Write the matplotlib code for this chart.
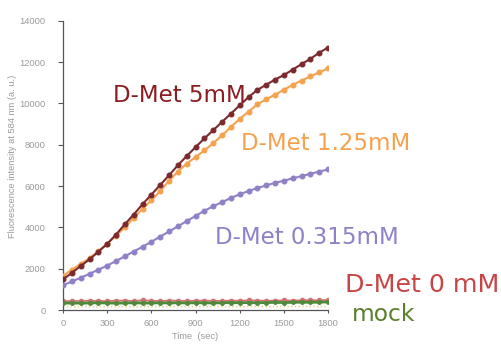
import matplotlib
matplotlib.use("Agg")
import matplotlib.pyplot as plt
from matplotlib import font_manager

plt.rcParams['font.family'] = ['DejaVu Sans']

# Narrow face for the small axis text when available
_names = {f.name for f in font_manager.fontManager.ttflist}
AXIS_FONT = 'Liberation Sans Narrow' if 'Liberation Sans Narrow' in _names else 'Liberation Sans'

# Time points (sec)
time_sec = list(range(0, 1801, 60))

# Fluorescence intensity at 584 nm (a.u.)
dmet_5mM = [1480, 1800, 2130, 2450, 2820, 3200, 3650, 4150, 4620, 5120,
            5580, 6050, 6520, 7000, 7450, 7880, 8300, 8700, 9100, 9500,
            9900, 10300, 10650, 10900, 11150, 11370, 11630, 11900, 12150,
            12450, 12700]
dmet_125mM = [1650, 1950, 2230, 2500, 2850, 3200, 3600, 4000, 4450, 4900,
              5300, 5750, 6250, 6700, 7080, 7400, 7720, 8070, 8450, 8850,
              9250, 9600, 9950, 10200, 10420, 10650, 10900, 11100, 11300,
              11500, 11700]
dmet_0315mM = [1200, 1380, 1560, 1750, 1950, 2150, 2370, 2600, 2830, 3060,
               3300, 3550, 3800, 4050, 4300, 4550, 4800, 5020, 5220, 5420,
               5600, 5760, 5900, 6030, 6150, 6260, 6370, 6480, 6590, 6700,
               6800]
dmet_0mM = [420, 440, 430, 450, 440, 430, 450, 460, 440, 470,
            450, 440, 460, 450, 440, 450, 460, 450, 440, 460,
            450, 470, 460, 450, 460, 470, 460, 470, 480, 470, 490]
mock = [330, 340, 330, 340, 350, 340, 330, 340, 350, 340,
        340, 350, 340, 350, 340, 350, 350, 340, 350, 360,
        350, 360, 350, 360, 370, 360, 370, 380, 370, 380, 390]
blank = [150, 150, 160, 150, 150, 160, 150, 160, 150, 160,
         150, 160, 160, 150, 160, 160, 150, 160, 160, 160,
         160, 160, 170, 160, 170, 160, 170, 170, 170, 170, 170]

fig = plt.figure(figsize=(5.02, 3.49), dpi=100)
ax = fig.add_axes([0.1255, 0.1117, 0.5279, 0.829])

ax.plot(time_sec, blank, color='#d9d27a', lw=1.0, ls=':', zorder=2)
ax.plot(time_sec, dmet_0mM, color='#d07070', lw=1.2, marker='o', ms=3, zorder=2)
ax.plot(time_sec, mock, color='#4f8a3c', lw=2.0, marker='o', ms=2.5, zorder=3)
ax.plot(time_sec, dmet_0315mM, color='#9080c8', lw=1.5, marker='o', ms=3.3, zorder=4)
ax.plot(time_sec, dmet_125mM, color='#f4a24e', lw=1.5, marker='o', ms=3.3, zorder=5)
ax.plot(time_sec, dmet_5mM, color='#7c2a2e', lw=1.5, marker='o', ms=3.3, zorder=6)

ax.set_xlim(0, 1800)
ax.set_ylim(0, 14000)
ax.set_xticks(range(0, 1801, 300))
ax.set_yticks(range(0, 14001, 2000))
for s in ('top', 'right'):
    ax.spines[s].set_visible(False)
for s in ('left', 'bottom'):
    ax.spines[s].set_color('#555555')
    ax.spines[s].set_linewidth(0.9)
ax.tick_params(axis='both', colors='#555555', labelcolor='#9a9a9a',
               labelsize=6.7, width=0.8, direction='out')
ax.tick_params(axis='y', length=3.5, pad=9)
ax.tick_params(axis='x', length=2.5, pad=4)
for lab in ax.get_xticklabels() + ax.get_yticklabels():
    lab.set_fontfamily(AXIS_FONT)
ax.set_xlabel('Time  (sec)', color='#9a9a9a', fontsize=6.7, labelpad=3,
              fontfamily=AXIS_FONT)
ax.set_ylabel('Fluorescence intensity at 584 nm (a. u.)', color='#9a9a9a',
              fontsize=6.7, fontfamily=AXIS_FONT)
ax.yaxis.set_label_coords(-0.175, 0.53)

def label_at(px, baseline_py, text, color, size):
    fig.text(px / 502, 1 - baseline_py / 349, text, color=color, fontsize=size,
             ha='left', va='baseline')

label_at(113, 101.7, 'D-Met 5mM', '#8a1c22', 16.5)
label_at(241, 150, 'D-Met 1.25mM', '#f4a24e', 16.5)
label_at(215, 243.5, 'D-Met 0.315mM', '#9080c8', 16.5)
label_at(345, 292.3, 'D-Met 0 mM', '#c94545', 18.2)
label_at(352, 321, 'mock', '#5b7f2a', 16.8)

fig.savefig('out.png', dpi=100)
